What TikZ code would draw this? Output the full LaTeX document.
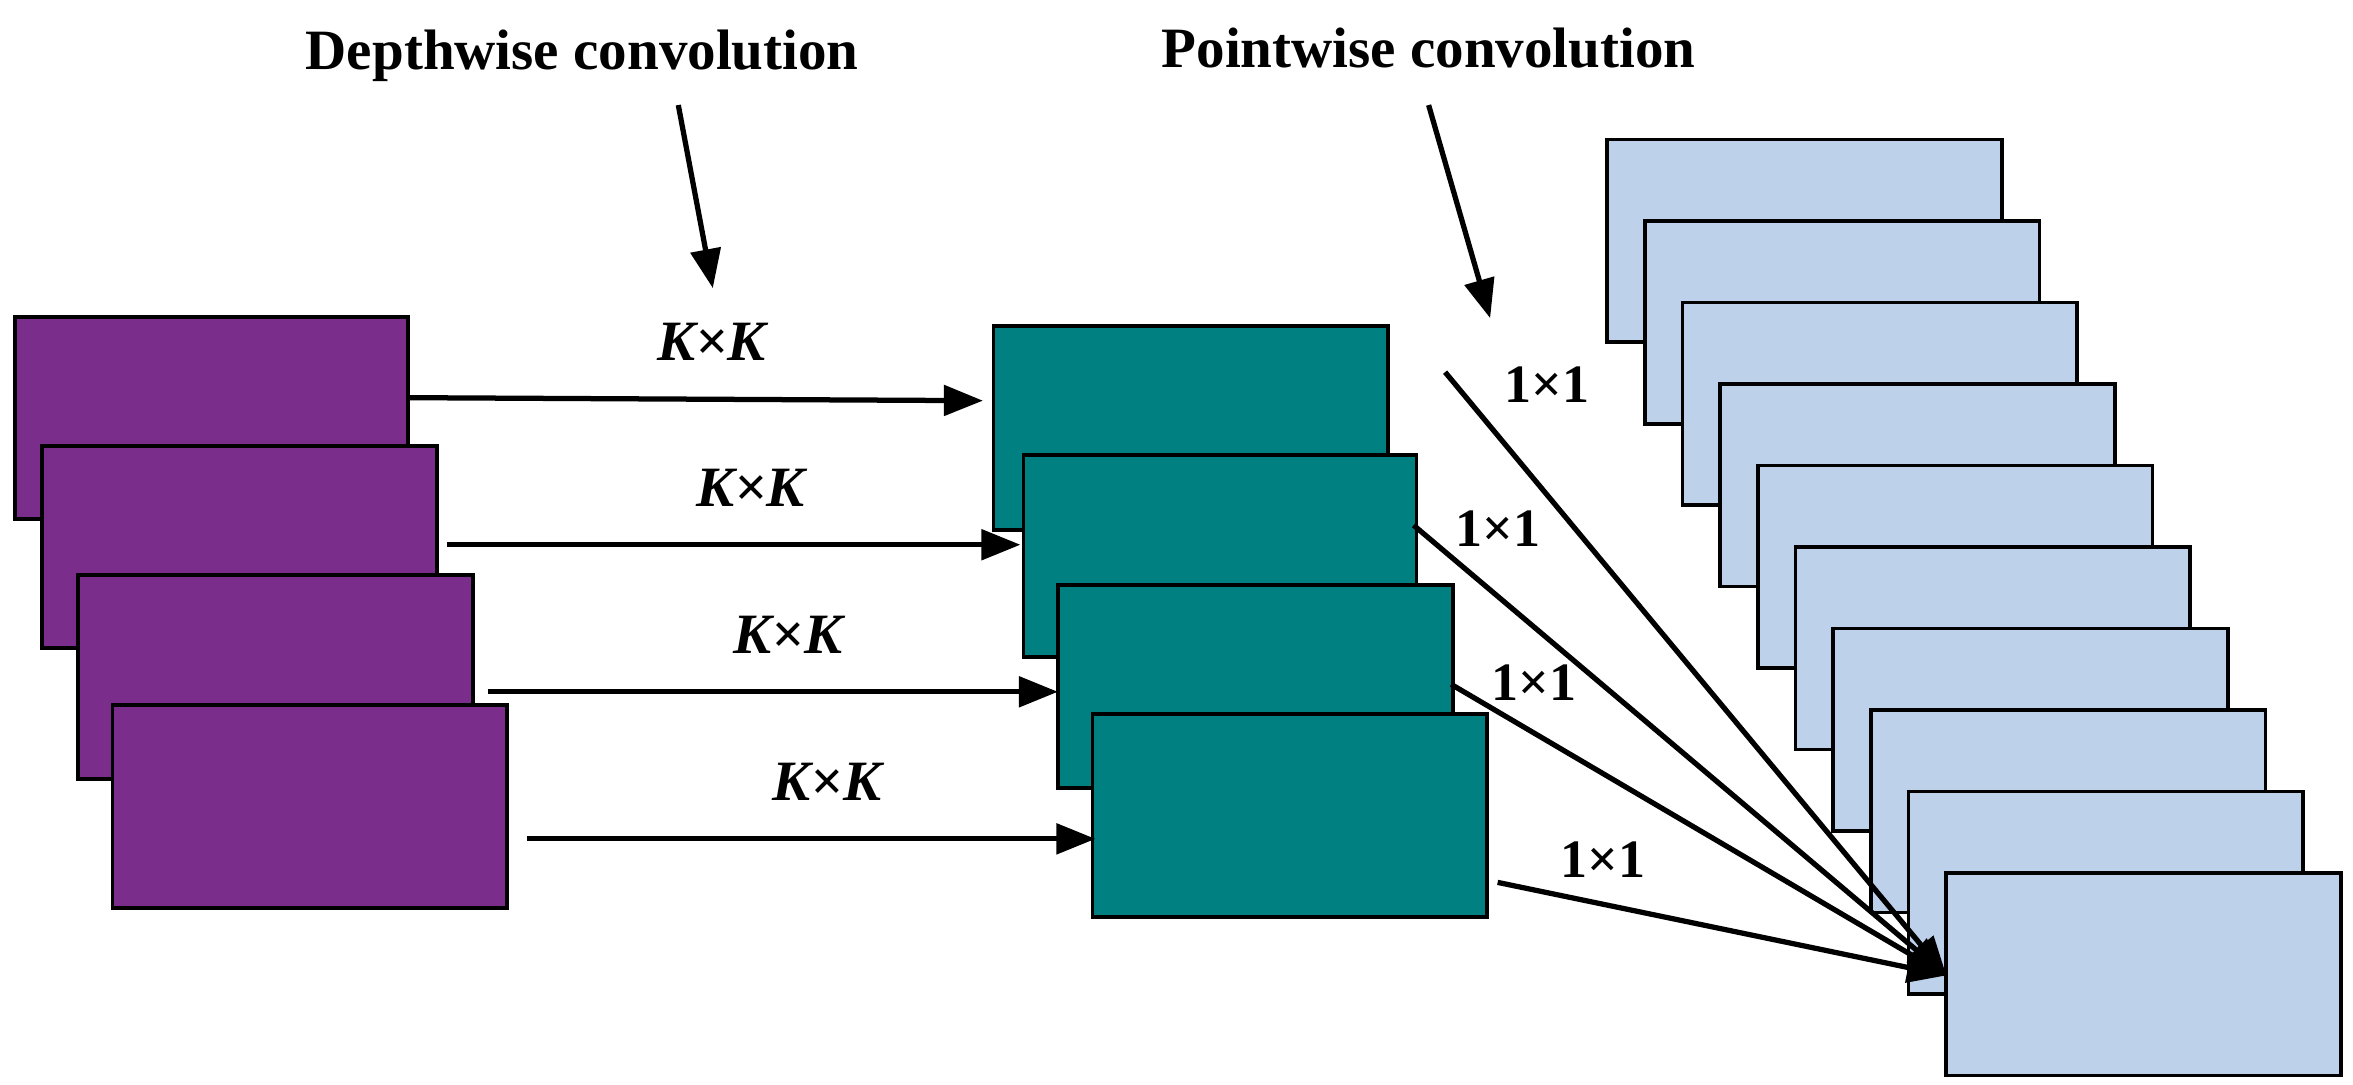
\documentclass[tikz,border=0pt]{standalone}
\usepackage{fontspec}
\setmainfont{Liberation Serif}
\usetikzlibrary{arrows.meta}
\definecolor{purp}{HTML}{7B2D8B}
\definecolor{teal2}{HTML}{008080}
\definecolor{lblue}{HTML}{BDD1EA}
\begin{document}
\begin{tikzpicture}[x=1pt,y=-1pt,
  card/.style={draw=black,line width=2.5pt},
  arr/.style={line width=3.5pt,-{Triangle[length=26pt,width=20pt]}},
  ttl/.style={font=\fontsize{38}{40}\selectfont\bfseries},
  kk/.style={font=\fontsize{38}{40}\selectfont\bfseries\itshape},
  oo/.style={font=\fontsize{36}{40}\selectfont\bfseries}]
\useasboundingbox (0,0) rectangle (1568,723);
% blue stack
\foreach \i in {0,...,9}{
  \pgfmathsetmacro\xx{1071+25.1*\i}
  \pgfmathsetmacro\yy{93+54.3*\i}
  \draw[card,fill=lblue] (\xx,\yy) rectangle ++(263,135);
}
\coordinate (B) at (1297,650);
% purple
\draw[card,fill=purp] (10,211) rectangle (272,346) coordinate (p1);
\draw[card,fill=purp] (28,297) rectangle (291,432);
\draw[card,fill=purp] (52,383) rectangle (315,519);
\draw[card,fill=purp] (75,470) rectangle (338,605);
% teal
\draw[card,fill=teal2] (662,217) rectangle (925,353);
\draw[card,fill=teal2] (682,303) rectangle (944,438);
\draw[card,fill=teal2] (705,390) rectangle (968,525);
\draw[card,fill=teal2] (728,476) rectangle (991,611);
% K x K arrows
\coordinate (a1) at (273,265); \coordinate (b1) at (655,267);
\coordinate (a2) at (298,363); \coordinate (b2) at (680,363);
\coordinate (a3) at (325,461); \coordinate (b3) at (705,461);
\coordinate (a4) at (351,559); \coordinate (b4) at (730,559);
\draw[arr] (a1) -- (b1);
\draw[arr] (a2) -- (b2);
\draw[arr] (a3) -- (b3);
\draw[arr] (a4) -- (b4);
\node[kk] (k1) at (474,228) {K×K};
\node[kk] (k2) at (500,325) {K×K};
\node[kk] (k3) at (525,423) {K×K};
\node[kk] (k4) at (551,521) {K×K};
% 1x1 arrows
\coordinate (c1) at (963,248);
\coordinate (c2) at (942,350);
\coordinate (c3) at (967,456);
\coordinate (c4) at (998,588);
\draw[arr] (c1) -- (B);
\draw[arr] (c2) -- (B);
\draw[arr] (c3) -- (B);
\draw[arr] (c4) -- (B);
\node[oo] (o1) at (1031,256) {1×1};
\node[oo] (o2) at (998,352) {1×1};
\node[oo] (o3) at (1022,455) {1×1};
\node[oo] (o4) at (1068,573) {1×1};
% titles
\node[ttl] (t1) at (388,37) {Depthwise convolution};
\node[ttl] (t2) at (952,32) {Pointwise convolution};
\coordinate (d1) at (452,70); \coordinate (d2) at (475,192);
\coordinate (e1) at (952,70); \coordinate (e2) at (993,212);
\draw[arr] (d1) -- (d2);
\draw[arr] (e1) -- (e2);
\end{tikzpicture}
\end{document}
